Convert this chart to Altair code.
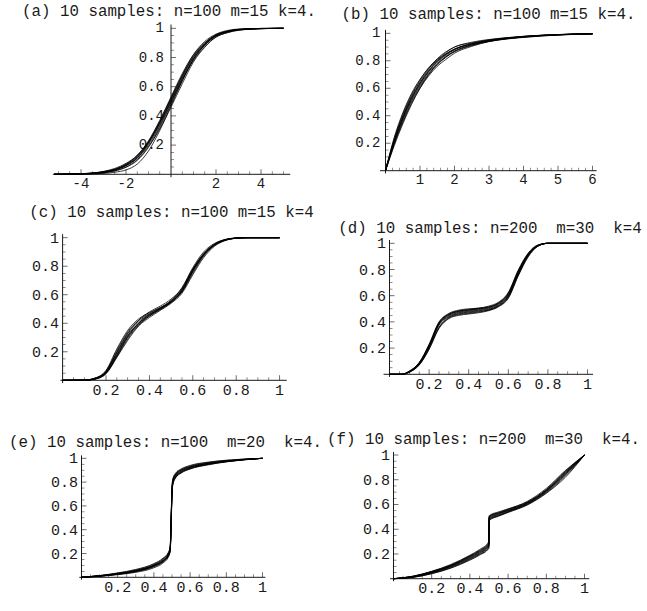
import altair as alt
import pandas as pd

FONT = "Liberation Mono"
INK = "#1a1a1a"
NB = "\u00a0"  # keeps the double spaces of the original titles visible in SVG

TITLES = [
    "(a) 10 samples: n=100 m=15 k=4.",
    "(b) 10 samples: n=100 m=15 k=4.",
    "(c) 10 samples: n=100 m=15 k=4",
    "(d) 10 samples: n=200 " + NB + "m=30 " + NB + "k=4",
    "(e) 10 samples: n=100 " + NB + "m=20 " + NB + "k=4.",
    "(f) 10 samples: n=200 " + NB + "m=30 " + NB + "k=4.",
]

# ---------------- panel (a) ----------------
A_X = [-5.2, -4, -3, -2.5, -2, -1.5, -1, -0.5, 0, 0.5, 1, 1.5, 2, 2.5, 3, 4, 5]
A_CURVES = [
    [0, 0.003, 0.015, 0.03, 0.06, 0.11, 0.21, 0.34, 0.50, 0.66, 0.80, 0.89, 0.95, 0.975, 0.99, 0.998, 1],
    [0, 0.004, 0.018, 0.035, 0.07, 0.13, 0.23, 0.37, 0.53, 0.69, 0.82, 0.90, 0.955, 0.98, 0.992, 0.999, 1],
    [0, 0.002, 0.012, 0.025, 0.05, 0.10, 0.19, 0.31, 0.46, 0.62, 0.77, 0.87, 0.94, 0.97, 0.988, 0.998, 1],
    [0, 0.001, 0.006, 0.014, 0.03, 0.07, 0.16, 0.30, 0.47, 0.64, 0.79, 0.89, 0.95, 0.978, 0.99, 0.998, 1],
    [0, 0.003, 0.016, 0.032, 0.065, 0.12, 0.22, 0.36, 0.52, 0.68, 0.82, 0.91, 0.96, 0.985, 0.995, 0.999, 1],
    [0, 0.004, 0.02, 0.04, 0.075, 0.13, 0.22, 0.35, 0.50, 0.65, 0.78, 0.875, 0.94, 0.97, 0.986, 0.997, 1],
    [0, 0.002, 0.013, 0.028, 0.058, 0.11, 0.20, 0.33, 0.49, 0.65, 0.79, 0.885, 0.945, 0.975, 0.99, 0.998, 1],
    [0, 0.003, 0.014, 0.03, 0.062, 0.115, 0.215, 0.35, 0.51, 0.67, 0.81, 0.90, 0.955, 0.98, 0.993, 0.999, 1],
    [0, 0.002, 0.01, 0.022, 0.048, 0.095, 0.185, 0.32, 0.48, 0.64, 0.785, 0.885, 0.95, 0.978, 0.991, 0.998, 1],
    [0, 0.004, 0.017, 0.034, 0.068, 0.125, 0.225, 0.36, 0.52, 0.675, 0.805, 0.895, 0.952, 0.978, 0.992, 0.999, 1],
]
A_XTICKS = [-4, -2, 2, 4]
A_XLABELS = ["-4", "-2", "2", "4"]
A_XMINOR = [-5, -4.5, -3.5, -3, -2.5, -1.5, -1, -0.5, 0.5, 1, 1.5, 2.5, 3, 3.5, 4.5, 5]

# ---------------- panel (b) ----------------
B_X = [0, 0.25, 0.5, 0.75, 1, 1.25, 1.5, 1.75, 2, 2.5, 3, 3.5, 4, 5, 6]
B_CURVES = [
    [0, 0.21, 0.38, 0.52, 0.63, 0.72, 0.79, 0.84, 0.88, 0.92, 0.945, 0.962, 0.975, 0.99, 0.997],
    [0, 0.23, 0.41, 0.55, 0.66, 0.75, 0.81, 0.86, 0.90, 0.93, 0.952, 0.967, 0.978, 0.991, 0.997],
    [0, 0.19, 0.35, 0.49, 0.60, 0.69, 0.76, 0.81, 0.855, 0.905, 0.94, 0.96, 0.972, 0.988, 0.996],
    [0, 0.22, 0.39, 0.53, 0.64, 0.73, 0.80, 0.85, 0.885, 0.925, 0.948, 0.964, 0.976, 0.99, 0.997],
    [0, 0.20, 0.36, 0.50, 0.61, 0.70, 0.77, 0.825, 0.865, 0.91, 0.94, 0.958, 0.97, 0.987, 0.996],
    [0, 0.22, 0.40, 0.54, 0.65, 0.74, 0.815, 0.865, 0.90, 0.935, 0.955, 0.968, 0.978, 0.991, 0.997],
    [0, 0.20, 0.37, 0.51, 0.62, 0.71, 0.78, 0.83, 0.87, 0.915, 0.942, 0.96, 0.973, 0.989, 0.996],
    [0, 0.21, 0.385, 0.525, 0.635, 0.725, 0.795, 0.845, 0.883, 0.922, 0.947, 0.963, 0.975, 0.99, 0.997],
    [0, 0.18, 0.34, 0.48, 0.60, 0.70, 0.775, 0.83, 0.87, 0.915, 0.943, 0.961, 0.974, 0.989, 0.996],
    [0, 0.24, 0.42, 0.56, 0.665, 0.745, 0.805, 0.85, 0.885, 0.925, 0.95, 0.965, 0.977, 0.99, 0.997],
]
B_XTICKS = [1, 2, 3, 4, 5, 6]
B_XLABELS = ["1", "2", "3", "4", "5", "6"]
B_XMINOR = [0.2, 0.4, 0.6, 0.8, 1.2, 1.4, 1.6, 1.8, 2.2, 2.4, 2.6, 2.8,
            3.2, 3.4, 3.6, 3.8, 4.2, 4.4, 4.6, 4.8, 5.2, 5.4, 5.6, 5.8]

# ---------------- panel (c) ----------------
C_X = [0, 0.1, 0.15, 0.2, 0.25, 0.3, 0.35, 0.4, 0.45, 0.5, 0.55, 0.6, 0.65, 0.7, 0.75, 0.8, 0.85, 1.0]
C_CURVES = [
    [0, 0.001, 0.012, 0.055, 0.18, 0.31, 0.40, 0.46, 0.50, 0.55, 0.63, 0.77, 0.88, 0.95, 0.985, 0.997, 1, 1],
    [0, 0.001, 0.015, 0.065, 0.21, 0.34, 0.42, 0.47, 0.51, 0.56, 0.65, 0.79, 0.90, 0.96, 0.988, 0.998, 1, 1],
    [0, 0.0, 0.008, 0.045, 0.16, 0.28, 0.38, 0.44, 0.49, 0.54, 0.61, 0.74, 0.86, 0.94, 0.98, 0.996, 1, 1],
    [0, 0.001, 0.013, 0.06, 0.20, 0.33, 0.42, 0.48, 0.52, 0.57, 0.645, 0.78, 0.885, 0.952, 0.985, 0.997, 1, 1],
    [0, 0.001, 0.01, 0.05, 0.17, 0.30, 0.39, 0.45, 0.495, 0.545, 0.62, 0.76, 0.875, 0.948, 0.983, 0.997, 1, 1],
    [0, 0.002, 0.016, 0.07, 0.22, 0.35, 0.43, 0.475, 0.51, 0.55, 0.62, 0.75, 0.87, 0.945, 0.982, 0.996, 1, 1],
    [0, 0.001, 0.011, 0.052, 0.175, 0.305, 0.395, 0.455, 0.505, 0.56, 0.64, 0.78, 0.89, 0.955, 0.987, 0.998, 1, 1],
    [0, 0.0, 0.009, 0.048, 0.165, 0.29, 0.385, 0.45, 0.50, 0.555, 0.635, 0.775, 0.885, 0.953, 0.986, 0.997, 1, 1],
    [0, 0.001, 0.014, 0.062, 0.195, 0.325, 0.41, 0.465, 0.505, 0.55, 0.625, 0.765, 0.878, 0.95, 0.984, 0.997, 1, 1],
    [0, 0.001, 0.012, 0.058, 0.19, 0.315, 0.40, 0.46, 0.50, 0.548, 0.628, 0.77, 0.882, 0.951, 0.985, 0.997, 1, 1],
]

# ---------------- panel (d) ----------------
D_X = [0, 0.06, 0.1, 0.15, 0.2, 0.25, 0.3, 0.35, 0.4, 0.45, 0.5, 0.55, 0.6, 0.65, 0.7, 0.75, 0.8, 1.0]
D_CURVES = [
    [0, 0, 0.02, 0.08, 0.21, 0.38, 0.445, 0.47, 0.48, 0.49, 0.50, 0.53, 0.60, 0.77, 0.91, 0.98, 1, 1],
    [0, 0, 0.025, 0.09, 0.23, 0.40, 0.465, 0.49, 0.50, 0.505, 0.515, 0.545, 0.62, 0.79, 0.92, 0.985, 1, 1],
    [0, 0, 0.015, 0.07, 0.19, 0.35, 0.425, 0.45, 0.46, 0.47, 0.485, 0.515, 0.58, 0.75, 0.895, 0.978, 1, 1],
    [0, 0, 0.02, 0.085, 0.22, 0.39, 0.455, 0.48, 0.49, 0.50, 0.51, 0.54, 0.61, 0.78, 0.915, 0.983, 1, 1],
    [0, 0, 0.018, 0.075, 0.20, 0.36, 0.435, 0.46, 0.47, 0.48, 0.49, 0.52, 0.59, 0.76, 0.905, 0.98, 1, 1],
    [0, 0, 0.022, 0.088, 0.225, 0.395, 0.46, 0.485, 0.495, 0.505, 0.52, 0.55, 0.625, 0.795, 0.925, 0.988, 1, 1],
    [0, 0, 0.019, 0.078, 0.205, 0.375, 0.44, 0.465, 0.475, 0.485, 0.495, 0.525, 0.595, 0.765, 0.908, 0.981, 1, 1],
    [0, 0, 0.021, 0.082, 0.215, 0.385, 0.45, 0.475, 0.485, 0.495, 0.505, 0.535, 0.605, 0.775, 0.912, 0.982, 1, 1],
    [0, 0, 0.016, 0.072, 0.195, 0.355, 0.43, 0.455, 0.465, 0.475, 0.49, 0.52, 0.585, 0.755, 0.90, 0.979, 1, 1],
    [0, 0, 0.023, 0.086, 0.218, 0.392, 0.458, 0.482, 0.492, 0.50, 0.512, 0.542, 0.615, 0.785, 0.918, 0.984, 1, 1],
]

# ---------------- panel (e) ----------------
E_X = [0, 0.1, 0.2, 0.3, 0.4, 0.45, 0.48, 0.49, 0.495, 0.5, 0.505, 0.52, 0.55, 0.6, 0.7, 0.8, 0.9, 1.0]
E_CURVES = [
    [0, 0.012, 0.03, 0.055, 0.10, 0.14, 0.19, 0.24, 0.45, 0.72, 0.80, 0.85, 0.89, 0.92, 0.955, 0.975, 0.99, 1],
    [0, 0.015, 0.037, 0.066, 0.115, 0.16, 0.21, 0.26, 0.50, 0.75, 0.82, 0.87, 0.905, 0.935, 0.965, 0.982, 0.993, 1],
    [0, 0.008, 0.022, 0.042, 0.08, 0.12, 0.17, 0.22, 0.40, 0.70, 0.78, 0.835, 0.875, 0.91, 0.945, 0.97, 0.987, 1],
    [0, 0.01, 0.027, 0.05, 0.095, 0.135, 0.185, 0.23, 0.44, 0.73, 0.81, 0.86, 0.90, 0.93, 0.96, 0.978, 0.991, 1],
    [0, 0.013, 0.032, 0.058, 0.105, 0.15, 0.20, 0.25, 0.47, 0.71, 0.79, 0.84, 0.88, 0.915, 0.95, 0.972, 0.988, 1],
    [0, 0.011, 0.028, 0.052, 0.098, 0.138, 0.188, 0.235, 0.46, 0.74, 0.815, 0.865, 0.90, 0.928, 0.958, 0.977, 0.99, 1],
    [0, 0.014, 0.034, 0.062, 0.11, 0.155, 0.205, 0.255, 0.48, 0.76, 0.83, 0.875, 0.91, 0.94, 0.968, 0.984, 0.994, 1],
    [0, 0.009, 0.025, 0.047, 0.088, 0.128, 0.178, 0.225, 0.42, 0.70, 0.785, 0.84, 0.88, 0.912, 0.948, 0.971, 0.988, 1],
    [0, 0.012, 0.029, 0.054, 0.10, 0.142, 0.192, 0.24, 0.455, 0.725, 0.805, 0.855, 0.893, 0.924, 0.957, 0.976, 0.99, 1],
    [0, 0.01, 0.026, 0.049, 0.092, 0.132, 0.182, 0.228, 0.43, 0.715, 0.795, 0.845, 0.885, 0.918, 0.952, 0.974, 0.989, 1],
]

# ---------------- panel (f) ----------------
F_X = [0, 0.1, 0.2, 0.3, 0.4, 0.45, 0.499, 0.501, 0.55, 0.6, 0.7, 0.8, 0.9, 1.0]
F_CURVES = [
    [0, 0.015, 0.05, 0.10, 0.17, 0.21, 0.27, 0.49, 0.52, 0.55, 0.61, 0.71, 0.85, 1],
    [0, 0.02, 0.06, 0.115, 0.19, 0.235, 0.30, 0.51, 0.54, 0.565, 0.62, 0.72, 0.87, 1],
    [0, 0.01, 0.04, 0.085, 0.15, 0.19, 0.245, 0.47, 0.505, 0.535, 0.595, 0.69, 0.82, 1],
    [0, 0.017, 0.055, 0.105, 0.18, 0.22, 0.28, 0.50, 0.53, 0.555, 0.615, 0.715, 0.86, 1],
    [0, 0.012, 0.045, 0.092, 0.16, 0.20, 0.26, 0.48, 0.51, 0.54, 0.60, 0.70, 0.84, 1],
    [0, 0.018, 0.058, 0.11, 0.185, 0.228, 0.29, 0.495, 0.525, 0.56, 0.625, 0.73, 0.875, 1],
    [0, 0.014, 0.048, 0.097, 0.165, 0.205, 0.265, 0.485, 0.515, 0.545, 0.605, 0.705, 0.845, 1],
    [0, 0.016, 0.052, 0.102, 0.175, 0.215, 0.275, 0.50, 0.535, 0.56, 0.615, 0.72, 0.865, 1],
    [0, 0.011, 0.042, 0.088, 0.155, 0.195, 0.25, 0.475, 0.51, 0.54, 0.60, 0.695, 0.83, 1],
    [0, 0.019, 0.057, 0.108, 0.18, 0.225, 0.285, 0.505, 0.53, 0.55, 0.61, 0.71, 0.855, 1],
]

# shared unit-interval ticks
U_TICKS = [0.2, 0.4, 0.6, 0.8, 1]
U_LABELS = ["0.2", "0.4", "0.6", "0.8", "1"]
U_MINOR = [0.05, 0.1, 0.15, 0.25, 0.3, 0.35, 0.45, 0.5, 0.55, 0.65, 0.7, 0.75, 0.85, 0.9, 0.95]

# layout of each panel in the 647x611 canvas (pixel ranges of the scales)
GEO = {
    "a": dict(xdom=[-5, 5], xr=[58.5, 283.5], yr=[174.3, 28.3], xaxis=[-5.25, 5.3],
              lab=14, ygap=7, title=(169, 11)),
    "b": dict(xdom=[0, 6], xr=[385.5, 592.5], yr=[170.7, 33.3], xaxis=[-0.16, 6.12],
              lab=14, ygap=5, title=(488.5, 14)),
    "c": dict(xdom=[0, 1], xr=[62.6, 279.6], yr=[380.3, 237.7], xaxis=[-0.01, 1.033],
              lab=15, ygap=3.5, title=(171.5, 212)),
    "d": dict(xdom=[0, 1], xr=[389.5, 587.5], yr=[374.3, 243.3], xaxis=[-0.03, 1.028],
              lab=15, ygap=3.5, title=(490, 228)),
    "e": dict(xdom=[0, 1], xr=[81.5, 262.5], yr=[577.3, 458.3], xaxis=[-0.012, 1.016],
              lab=15, ygap=3.5, title=(165.5, 442)),
    "f": dict(xdom=[0, 1], xr=[393.5, 584.5], yr=[578.7, 455.0], xaxis=[-0.018, 1.025],
              lab=15, ygap=3.5, title=(483.5, 439)),
}


def panel(key, xs, curves, xticks, xlabels, xminor, title):
    g = GEO[key]
    xsc = alt.Scale(domain=g["xdom"], range=g["xr"], nice=False, zero=False)
    ysc = alt.Scale(domain=[0, 1], range=g["yr"], nice=False, zero=False)

    def X(f):
        return alt.X(f, type="quantitative", scale=xsc, axis=None)

    def Y(f):
        return alt.Y(f, type="quantitative", scale=ysc, axis=None)

    rows = []
    for i, ys in enumerate(curves):
        for j, (x, y) in enumerate(zip(xs, ys)):
            rows.append({"x": x, "y": y, "s": i, "o": j})
    lines = alt.Chart(pd.DataFrame(rows)).mark_line(
        interpolate="monotone", color="#000000", strokeWidth=0.85, opacity=0.9
    ).encode(x=X("x"), y=Y("y"), detail="s:N", order="o:Q")

    hax = alt.Chart(pd.DataFrame({"x0": [g["xaxis"][0]], "x1": [g["xaxis"][1]], "y0": [0]})).mark_rule(
        color=INK, strokeWidth=1
    ).encode(x=X("x0"), x2="x1", y=Y("y0"))
    vax = alt.Chart(pd.DataFrame({"x0": [0], "y0": [-0.02], "y1": [1.025]})).mark_rule(
        color=INK, strokeWidth=1
    ).encode(x=X("x0"), y=Y("y0"), y2="y1")

    xt = pd.DataFrame({"x": xticks, "y": [0] * len(xticks), "lab": xlabels})
    xm = pd.DataFrame({"x": xminor, "y": [0] * len(xminor)})
    yt = pd.DataFrame({"x": [0] * len(U_TICKS), "y": U_TICKS, "lab": U_LABELS})
    ym = pd.DataFrame({"x": [0] * len(U_MINOR), "y": U_MINOR})

    xtick = alt.Chart(xt).mark_tick(orient="vertical", size=5, thickness=0.9, color=INK, yOffset=-2.5).encode(
        x=X("x"), y=Y("y"))
    xmin = alt.Chart(xm).mark_tick(orient="vertical", size=3, thickness=0.7, color=INK, yOffset=-1.5).encode(
        x=X("x"), y=Y("y"))
    ytick = alt.Chart(yt).mark_tick(orient="horizontal", size=5, thickness=0.9, color=INK, xOffset=2.5).encode(
        x=X("x"), y=Y("y"))
    ymin = alt.Chart(ym).mark_tick(orient="horizontal", size=3, thickness=0.7, color=INK, xOffset=1.5).encode(
        x=X("x"), y=Y("y"))

    xlab = alt.Chart(xt).mark_text(font=FONT, fontSize=g["lab"], color=INK, align="center",
                                   baseline="middle", dy=9.5).encode(x=X("x"), y=Y("y"), text="lab:N")
    ylab = alt.Chart(yt).mark_text(font=FONT, fontSize=g["lab"], color=INK, align="right",
                                   baseline="middle", dx=-g["ygap"]).encode(x=X("x"), y=Y("y"), text="lab:N")

    ttl = alt.Chart(pd.DataFrame({"t": [title]})).mark_text(
        font=FONT, fontSize=15.8, color=INK, align="center", baseline="middle"
    ).encode(x=alt.value(g["title"][0]), y=alt.value(g["title"][1]), text="t:N")

    return [hax, vax, xmin, xtick, ymin, ytick, xlab, ylab, lines, ttl]


layers = []
layers += panel("a", A_X, A_CURVES, A_XTICKS, A_XLABELS, A_XMINOR, TITLES[0])
layers += panel("b", B_X, B_CURVES, B_XTICKS, B_XLABELS, B_XMINOR, TITLES[1])
layers += panel("c", C_X, C_CURVES, U_TICKS, U_LABELS, U_MINOR, TITLES[2])
layers += panel("d", D_X, D_CURVES, U_TICKS, U_LABELS, U_MINOR, TITLES[3])
layers += panel("e", E_X, E_CURVES, U_TICKS, U_LABELS, U_MINOR, TITLES[4])
layers += panel("f", F_X, F_CURVES, U_TICKS, U_LABELS, U_MINOR, TITLES[5])

chart = alt.layer(*layers).resolve_scale(x="independent", y="independent").properties(
    width=647, height=611, padding=0, autosize=alt.AutoSizeParams(type="none"),
    background="white",
).configure_view(strokeWidth=0)

chart.save("out.html", embed_options={"renderer": "svg", "actions": False})
